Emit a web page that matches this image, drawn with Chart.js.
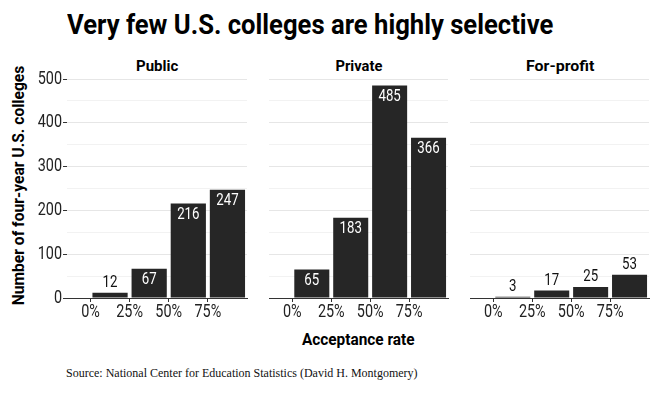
<!DOCTYPE html>
<html>
<head>
<meta charset="utf-8">
<script src="https://cdn.jsdelivr.net/npm/chart.js@4"></script>
<style>
  body { margin: 0; background: #fff; }
  #wrap { position: relative; width: 655px; height: 393px; overflow: hidden; font-family: Roboto, "Liberation Sans", sans-serif; }
  .txt { position: absolute; white-space: nowrap; color: #000; display: inline-block; }
  .b { font-weight: bold; }
  canvas { position: absolute; }
</style>
</head>
<body>
<div id="wrap">
  <span class="txt b fit" data-lx="67" data-w="486" style="top:10.7px;font-size:28px;line-height:28px">Very few U.S. colleges are highly selective</span>
  <span class="txt b fit" data-cx="157" data-w="42" style="top:59px;font-size:15px;line-height:15px">Public</span>
  <span class="txt b fit" data-cx="358.5" data-w="47" style="top:59px;font-size:15px;line-height:15px">Private</span>
  <span class="txt b fit" data-cx="559.5" data-w="68" style="top:59px;font-size:15px;line-height:15px">For-profit</span>
  <span class="txt b fit" data-cx="358" data-w="113" style="top:330.7px;font-size:17px;line-height:17px">Acceptance rate</span>
  <span class="txt b fit" data-cx="18.7" data-cy="185" data-rot="1" data-w="240" style="font-size:17px;line-height:17px">Number of four-year U.S. colleges</span>
  <span class="txt" style="left:66px;top:367px;font-size:12px;line-height:12px;font-family:'Liberation Serif','DejaVu Serif',serif;color:#111">Source: National Center for Education Statistics (David H. Montgomery)</span>
  <canvas id="c0" width="232" height="270" style="left:20px;top:60px"></canvas>
  <canvas id="c1" width="189" height="270" style="left:264px;top:60px"></canvas>
  <canvas id="c2" width="189" height="270" style="left:465px;top:60px"></canvas>
</div>
<script>
// bins are 25-point acceptance-rate ranges; bars sit at bin centres
const binCenters = [12.5, 37.5, 62.5, 87.5];
const xTicks = [0, 25, 50, 75];
const yLabelTicks = [0, 100, 200, 300, 400, 500];
const publicCounts = [12, 67, 216, 247];
const privateCounts = [65, 183, 485, 366];
const forProfitCounts = [3, 17, 25, 53];

const FONT = 'Roboto, "Liberation Sans", sans-serif';

// squeeze HTML text to the condensed widths of the original
document.querySelectorAll('.fit').forEach(el => {
  const w = el.offsetWidth, h = el.offsetHeight;
  const s = +el.dataset.w / w;
  if (el.dataset.rot) {
    el.style.left = (+el.dataset.cx - w / 2) + 'px';
    el.style.top = (+el.dataset.cy - h / 2) + 'px';
    el.style.transformOrigin = 'center';
    el.style.transform = `rotate(-90deg) scaleX(${s})`;
  } else if (el.dataset.cx) {
    el.style.left = (+el.dataset.cx - w / 2) + 'px';
    el.style.transformOrigin = 'center';
    el.style.transform = `scaleX(${s})`;
  } else {
    el.style.left = el.dataset.lx + 'px';
    el.style.transformOrigin = 'left';
    el.style.transform = `scaleX(${s})`;
  }
});

function condensedText(ctx, text, x, y, align, size, squeeze) {
  ctx.save();
  ctx.translate(x, y);
  ctx.scale(squeeze, 1);
  ctx.font = size + 'px ' + FONT;
  ctx.textAlign = align;
  ctx.textBaseline = 'middle';
  ctx.fillText(text, 0, 0);
  ctx.restore();
}

// value labels: white inside tall bars, dark above short ones
const barLabels = {
  id: 'barLabels',
  afterDatasetsDraw(chart) {
    const ctx = chart.ctx;
    const meta = chart.getDatasetMeta(0);
    const values = chart.data.datasets[0].data;
    meta.data.forEach((bar, i) => {
      const v = values[i].y;
      if (v >= 60) {
        ctx.fillStyle = '#fff';
        condensedText(ctx, String(v), bar.x, bar.y + 11, 'center', 17, 0.78);
      } else {
        ctx.fillStyle = '#111';
        condensedText(ctx, String(v), bar.x, bar.y - 10, 'center', 17, 0.78);
      }
    });
  }
};

// tick labels in a narrow face, placed from the chart's own scales
const tickLabels = {
  id: 'tickLabels',
  afterDraw(chart, args, opts) {
    const ctx = chart.ctx;
    const x = chart.scales.x, y = chart.scales.y;
    ctx.fillStyle = '#222';
    xTicks.forEach(v => condensedText(ctx, v + '%', x.getPixelForValue(v), x.top + 14, 'center', 18, 0.8));
    if (opts.showY) {
      yLabelTicks.forEach(v => condensedText(ctx, String(v), chart.chartArea.left - 5, y.getPixelForValue(v), 'right', 18, 0.8));
    }
  }
};

function makePanel(canvasId, counts, showY) {
  const canvas = document.getElementById(canvasId);
  new Chart(canvas, {
    type: 'bar',
    data: {
      datasets: [{
        data: binCenters.map((x, i) => ({ x: x, y: counts[i] })),
        backgroundColor: '#262626',
        borderWidth: 0,
        barPercentage: 0.9,
        categoryPercentage: 1,
      }],
    },
    options: {
      responsive: false,
      animation: false,
      layout: { padding: { top: 19, right: 5, left: 0, bottom: 0 } },
      plugins: { legend: { display: false }, tooltip: { enabled: false }, tickLabels: { showY } },
      scales: {
        x: {
          type: 'linear',
          offset: false,
          min: -15,
          max: 100,
          afterBuildTicks: s => { s.ticks = xTicks.map(v => ({ value: v })); },
          afterFit: s => { s.height = 32; },
          grid: { offset: false, drawOnChartArea: false, drawTicks: true, tickLength: 4, color: '#333' },
          border: { display: true, color: '#333', width: 1 },
          ticks: { display: false },
        },
        y: {
          min: 0,
          max: 500,
          afterFit: s => { s.width = showY ? 47 : 5; },
          border: { display: false },
          grid: {
            color: c => (c.tick.value % 100 === 0 ? '#e6e6e6' : '#f2f2f2'),
            drawTicks: showY,
            tickLength: 4,
            tickColor: c => (c.tick.value % 100 === 0 ? '#333' : 'rgba(0,0,0,0)'),
          },
          ticks: { display: false, stepSize: 50 },
        },
      },
    },
    plugins: [barLabels, tickLabels],
  });
}

makePanel('c0', publicCounts, true);
makePanel('c1', privateCounts, false);
makePanel('c2', forProfitCounts, false);
</script>
</body>
</html>
